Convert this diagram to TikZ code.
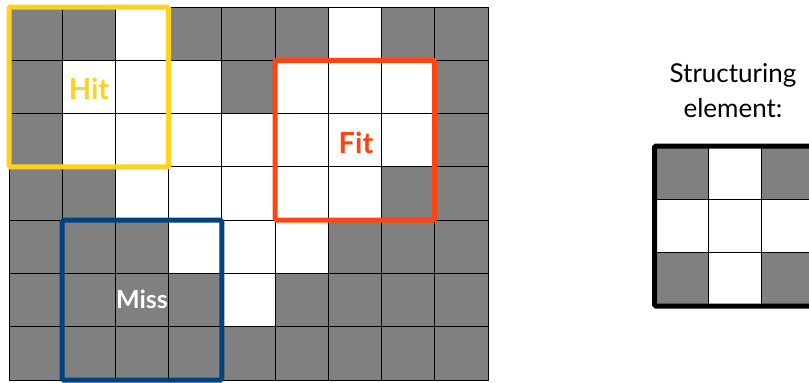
\documentclass[tikz,border=0pt]{standalone}
\usepackage{fontspec}
\setmainfont{Lato}
\definecolor{cellgray}{HTML}{808080}
\definecolor{hitcol}{HTML}{FFD21F}
\definecolor{fitcol}{HTML}{FF4412}
\definecolor{misscol}{HTML}{00427F}
\begin{document}
\begin{tikzpicture}[x=1pt,y=-1pt,
  gcell/.style={fill=cellgray,draw=black,line width=0.9pt},
  wcell/.style={fill=white,draw=black,line width=0.9pt},
  hitbox/.style={draw=hitcol,line width=5pt,rounded corners=1.5pt},
  fitbox/.style={draw=fitcol,line width=5pt,rounded corners=1.5pt},
  missbox/.style={draw=misscol,line width=5pt,rounded corners=1.5pt},
  lbl/.style={font=\bfseries\fontsize{29}{31}\selectfont}]
\useasboundingbox[fill=white] (0,0) rectangle (809,383);
% main grid: 1 = white, 0 = gray
\def\cw{53.22}
\def\ch{53.29}
\foreach \row/\pat in {0/{0,0,1,0,0,0,1,0,0},
                       1/{0,1,1,1,0,1,1,1,0},
                       2/{0,1,1,1,1,1,1,1,0},
                       3/{0,0,1,1,1,1,1,0,0},
                       4/{0,0,0,1,1,1,0,0,0},
                       5/{0,0,0,0,1,0,0,0,0},
                       6/{0,0,0,0,0,0,0,0,0}}{
  \foreach \v [count=\c from 0] in \pat {
    \ifnum\v=1
      \path[wcell] ({9+\c*\cw},{7+\row*\ch}) rectangle ++(\cw,\ch);
    \else
      \path[gcell] ({9+\c*\cw},{7+\row*\ch}) rectangle ++(\cw,\ch);
    \fi
  }
}
% windows
\draw[hitbox] (9,7) rectangle (168.7,166.9);
\draw[fitbox] (275.1,60.3) rectangle (434.7,220.2);
\draw[missbox] (62.2,220.2) rectangle (221.9,380);
\node[lbl,text=hitcol] (hit) at (89,89) {Hit};
\node[lbl,text=fitcol] (fit) at (356,143) {Fit};
\node[lbl,text=white,font=\bfseries\fontsize{25}{27}\selectfont] (miss) at (142,299) {Miss};
% structuring element
\foreach \row/\pat in {0/{0,1,0},1/{1,1,1},2/{0,1,0}}{
  \foreach \v [count=\c from 0] in \pat {
    \ifnum\v=1
      \path[wcell] ({654.5+\c*53.7},{146+\row*53.3}) rectangle ++(53.7,53.3);
    \else
      \path[gcell] ({654.5+\c*53.7},{146+\row*53.3}) rectangle ++(53.7,53.3);
    \fi
  }
}
\draw[line width=5pt,rounded corners=1.5pt] (654.5,146) rectangle (815.6,306);
\node[align=center,font=\fontsize{26}{35}\selectfont,anchor=base] (se) at (733,117) {Structuring\\element:};
\end{tikzpicture}
\end{document}
